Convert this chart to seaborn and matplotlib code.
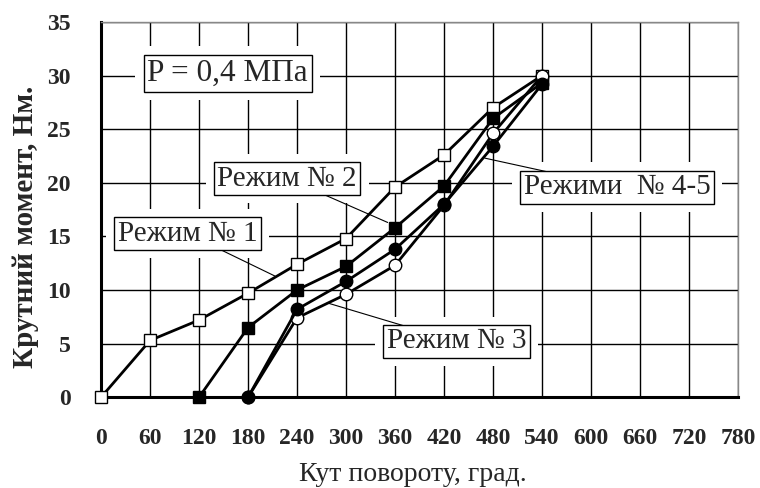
import matplotlib
matplotlib.use("Agg")
import matplotlib.pyplot as plt
import pandas as pd
import seaborn as sns

# torque vs rotation angle
mode1_x = [0, 60, 120, 180, 240, 300, 360, 420, 480, 540]
mode1_y = [0, 5.3, 7.2, 9.7, 12.4, 14.8, 19.6, 22.6, 27.0, 30.0]
mode2_x = [120, 180, 240, 300, 360, 420, 480, 540]
mode2_y = [0, 6.5, 10.0, 12.2, 15.8, 19.7, 26.0, 29.3]
mode3_x = [180, 240, 300, 360, 420, 480, 540]
mode3_y = [0, 7.4, 9.6, 12.3, 17.9, 24.6, 30.0]
mode45_x = [180, 240, 300, 360, 420, 480, 540]
mode45_y = [0, 8.2, 10.8, 13.8, 18.0, 23.4, 29.2]

x_ticks = list(range(0, 781, 60))
y_ticks = list(range(0, 36, 5))

x_label = "Кут повороту, град."
y_label = "Крутний момент, Нм."
pressure_text = "P = 0,4 МПа"

# label text, label position, leader end point on the curve
annotations = [
    ("Режим № 1", (106, 15.25), (213, 11.3)),
    ("Режим № 2", (228, 20.4), (351, 16.3)),
    ("Режим № 3", (435, 5.2), (277, 8.8)),
    ("Режими  № 4-5", (632, 19.6), (470, 22.3)),
]

series = [
    (mode1_x, mode1_y, "s", "white"),
    (mode2_x, mode2_y, "s", "black"),
    (mode3_x, mode3_y, "o", "white"),
    (mode45_x, mode45_y, "o", "black"),
]

sns.set_theme(style="white")
plt.rcParams["font.family"] = ["Liberation Serif", "DejaVu Serif"]

fig = plt.figure(figsize=(7.6, 4.88), dpi=100)
ax = fig.add_axes([0.133, 0.186, 0.838, 0.769])

for xs, ys, marker, face in series:
    frame = pd.DataFrame({"angle": xs, "torque": ys})
    sns.lineplot(
        data=frame, x="angle", y="torque", ax=ax, color="black", linewidth=2,
        marker=marker, markersize=9, markerfacecolor=face, markeredgecolor="black",
        markeredgewidth=1, zorder=5, clip_on=False,
    )

ax.set_xlim(0, 780)
ax.set_ylim(0, 35)
ax.set_xticks(x_ticks)
ax.set_yticks(y_ticks)
ax.set_xticklabels([str(v) for v in x_ticks], fontsize=17, fontweight="bold")
ax.set_yticklabels([str(v) for v in y_ticks], fontsize=17, fontweight="bold")
ax.tick_params(axis="both", length=0)
ax.tick_params(axis="x", pad=22)
ax.tick_params(axis="y", pad=22)
ax.grid(True, color="black", linewidth=1)
ax.set_axisbelow(True)

for side in ("left", "bottom"):
    ax.spines[side].set_color("black")
    ax.spines[side].set_linewidth(2.2)
for side in ("top", "right"):
    ax.spines[side].set_color("#888888")
    ax.spines[side].set_linewidth(1)

ax.set_xlabel(x_label, fontsize=20, va="baseline")
ax.xaxis.set_label_coords(0.49, -0.222)
ax.set_ylabel(y_label, fontsize=21, fontweight="bold")
ax.yaxis.set_label_coords(-0.098, 0.455)


def boxed_text(text, pos, fontsize):
    # white margin that interrupts the grid, then the thin black frame
    ax.text(*pos, text, fontsize=fontsize, ha="center", va="center", zorder=6, color="none",
            bbox=dict(boxstyle="square,pad=0.4", facecolor="white", edgecolor="none"))
    ax.text(*pos, text, fontsize=fontsize, ha="center", va="center", zorder=8,
            bbox=dict(boxstyle="square,pad=0.12", facecolor="white", edgecolor="black", linewidth=1))


boxed_text(pressure_text, (155, 30.2), 22.5)
for text, pos, end in annotations:
    ax.annotate("", xy=end, xytext=pos, zorder=7,
                arrowprops=dict(arrowstyle="-", color="black", linewidth=0.8, shrinkA=0, shrinkB=0))
    boxed_text(text, pos, 21)

fig.savefig("out.png", dpi=100)
